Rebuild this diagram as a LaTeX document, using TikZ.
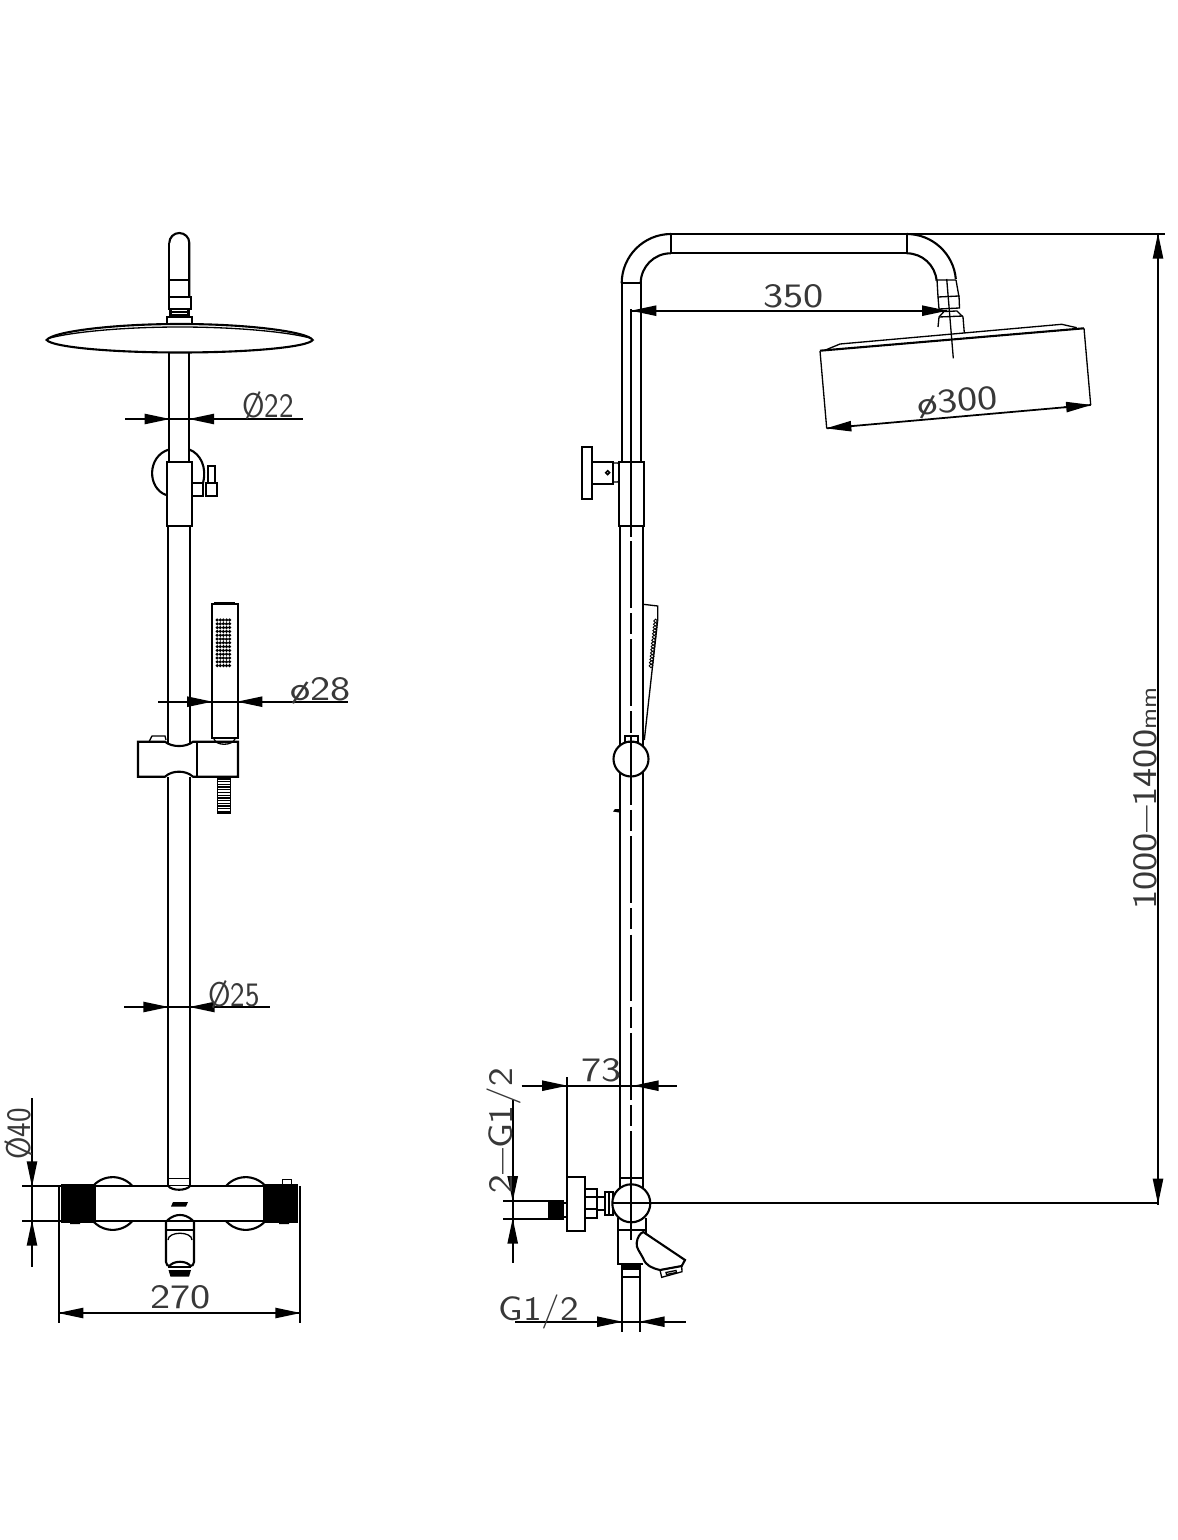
\documentclass[tikz,border=0pt]{standalone}
\usepackage{tikz}
\usetikzlibrary{arrows.meta}
\newcommand{\dimdash}{\raisebox{1.6pt}{\fontsize{13}{13}\selectfont —}}
\tikzset{
  partline/.style={line width=1.2pt,line join=miter},
  thinline/.style={line width=.75pt},
  dimline/.style={line width=1pt},
  dimtip/.style={line width=1pt,-{Triangle[length=14.5pt,width=5.8pt]},shorten >=-.5pt},
  dimtext/.style={font=\sffamily\fontsize{19.5}{20}\selectfont,inner sep=0pt,text=black!78},
  dimwide/.style={dimtext,xscale=1.25},
  dimnarrow/.style={dimtext,xscale=.9}
}
\begin{document}
\begin{tikzpicture}[x=0.02cm,y=-0.02cm]
      \useasboundingbox (0,0) rectangle (1177,1540);

      \draw[partline] (169.3,243) arc[start angle=180,end angle=360,radius=10] -- (189.3,297);
      \draw[partline] (169.3,243) -- (169.3,297);
      \draw[thinline] (169.3,280) -- (189.3,280);
      \draw[partline] (168.7,297) rectangle (190.7,309);
      \draw[partline] (170.5,309) -- (170.5,317) (188.5,309) -- (188.5,317);
      \draw[thinline] (172,312) -- (187,312) (172,315) -- (187,315);
      \draw[partline] (167,325) -- (167,317) -- (192,317) -- (192,325);
      \draw[partline,fill=white] (46.7,340) .. controls (52,332) and (110,324) .. (180,324) .. controls (250,324) and (308,332) .. (312.7,340) .. controls (308,347) and (250,352.5) .. (180,352.5) .. controls (110,352.5) and (52,347) .. cycle;
      \draw[thinline] (50,338) .. controls (70,332.5) and (120,327) .. (180,327) .. controls (240,327) and (290,332.5) .. (310,338);
      \draw[partline] (169.3,352.5) -- (169.3,462) (189.3,352.5) -- (189.3,462);
      \draw[partline] (169,449.5) .. controls (147,456) and (147,488) .. (166,495);
      \draw[partline] (189.3,449.5) .. controls (201,454) and (207,468) .. (203,483);
      \draw[partline,fill=white] (167,462) rectangle (192,526);
      \draw[partline] (192,483) rectangle (203,496);
      \draw[partline] (205.7,483) rectangle (217,496);
      \draw[partline] (207.7,483) -- (207.7,466) -- (215,466) -- (215,483);

      \draw[partline] (168,526) -- (168,743) (190,526) -- (190,743);
      \draw[partline] (168,777) -- (168,1186) (190,777) -- (190,1186);
      \draw[partline] (211.7,738) -- (211.7,604) -- (237.7,604) -- (237.7,738) -- cycle;
      \draw[thinline] (214,603) -- (235,603);
      \foreach \dotx in {217.2,220.3,...,232}
        \foreach \doty in {620,623.8,...,667}
          \fill (\dotx,\doty) circle[radius=1.75];
      \draw[partline] (138,741.7) -- (165,741.7) .. controls (172,747.5) and (186,747.5) .. (193,741.7) -- (238,741.7) -- (238,776.7) -- (193,776.7) .. controls (186,770) and (172,770) .. (165,776.7) -- (138,776.7) -- cycle;
      \draw[partline] (197,741.7) -- (197,776.7);
      \draw[thinline] (149,741.7) -- (152,736) -- (165,736) -- (166,740);
      \draw[thinline] (214,739) .. controls (216,746) and (232,746) .. (235,739);
      \draw[thinline] (217.7,777) -- (217.7,813) -- (230.7,813) -- (230.7,777);
      \foreach \coily in {779,781.7,...,812}
        \draw[thinline] (218,\coily) -- (230.5,\coily);

      \draw[partline] (92.8,1186.2) arc[start angle=221,end angle=319,radius=26.4];
      \draw[partline] (132.6,1220.8) arc[start angle=41,end angle=139,radius=26.4];
      \draw[partline] (225.8,1186.2) arc[start angle=221,end angle=319,radius=26.4];
      \draw[partline] (265.6,1220.8) arc[start angle=41,end angle=139,radius=26.4];
      \draw[partline] (96,1186) -- (263.3,1186) (96,1221) -- (263.3,1221);
      \draw[partline,fill=white] (168.3,1186) .. controls (172,1191) and (186,1191) .. (190,1186);
      \draw[thinline] (168.3,1178.5) -- (190,1178.5);
      \fill (61,1184.3) rectangle (96,1222.7);
      \fill (263.3,1184.3) rectangle (298,1222.7);
      \fill (70,1222) rectangle (80,1224) (279,1222) rectangle (289,1224);
      \draw[thinline] (282.7,1184) -- (282.7,1179.3) -- (291.7,1179.3) -- (291.7,1184);
      \fill (171,1206.5) -- (173,1202) -- (188,1202) -- (186,1206.5) -- cycle;
      \draw[partline] (166.7,1221) .. controls (172,1216) and (176,1215) .. (180,1215) .. controls (184,1215) and (188,1216) .. (193.3,1221);
      \draw[partline] (166,1221) -- (166,1262) .. controls (166,1265) and (168,1266) .. (170,1266);
      \draw[partline] (194,1221) -- (194,1262) .. controls (194,1265) and (192,1266) .. (190,1266);
      \draw[partline] (166,1230) -- (194,1230);
      \draw[thinline] (168,1240) .. controls (168,1231) and (192,1231) .. (192,1240);
      \draw[partline] (169,1267) .. controls (172,1260) and (188,1260) .. (191,1267);
      \draw[thinline] (168,1267) -- (191,1267);
      \fill (168.5,1270) -- (191,1270) -- (189,1276.7) -- (170.5,1276.7) -- cycle;

      \draw[dimline] (125,419) -- (303,419);
      \draw[dimtip] (144,419) -- (169.3,419);
      \draw[dimtip] (215,419) -- (189.5,419);
      \node[dimnarrow,anchor=base west] (dia22) at (242,418) {Ø22};

      \draw[dimline] (158,701.7) -- (348,701.7);
      \draw[dimtip] (185,701.7) -- (211.7,701.7);
      \draw[dimtip] (264,701.7) -- (237.7,701.7);
      \node[dimwide,anchor=base west] (dia28) at (290,700) {ø28};

      \draw[dimline] (124,1007) -- (270,1007);
      \draw[dimtip] (142,1007) -- (168,1007);
      \draw[dimtip] (216,1007) -- (190,1007);
      \node[dimnarrow,anchor=base west] (dia25) at (208,1006) {Ø25};

      \draw[dimline] (22,1186) -- (61,1186) (22,1221) -- (61,1221);
      \draw[dimline] (32,1098) -- (32,1267);
      \draw[dimtip] (32,1158) -- (32,1186);
      \draw[dimtip] (32,1247) -- (32,1221);
      \node[rotate=90,dimnarrow,anchor=base west] (dia40) at (30.5,1160) {Ø40};

      \draw[dimline] (58.7,1186) -- (58.7,1323) (300,1186) -- (300,1323);
      \draw[dimline] (58.7,1313) -- (300,1313);
      \draw[dimtip] (86,1313) -- (58.7,1313);
      \draw[dimtip] (272.7,1313) -- (300,1313);
      \node[dimwide,anchor=base west] (width270) at (150,1308) {270};

      \draw[partline] (621.7,283.3) arc[start angle=180,end angle=270,radius=49.3];
      \draw[partline] (640.7,283.3) arc[start angle=180,end angle=270,radius=30];
      \draw[partline] (671,234) rectangle (906.7,253.3);
      \draw[partline] (906.7,234) arc[start angle=270,end angle=355,radius=49.3];
      \draw[partline] (906.7,253.3) arc[start angle=270,end angle=355,radius=30];
      \draw[dimline] (906.7,234) -- (1165,234);
      \draw[partline] (621.7,283.3) -- (640.7,283.3);
      \draw[partline] (621.7,283.3) -- (621.7,462) (640.7,283.3) -- (640.7,462);
      \draw[partline] (630.7,309.3) -- (630.7,537);

      \draw[thinline] (937,280) -- (956,280) (937,280) -- (938,297) (956,280) -- (959,297);
      \draw[thinline] (938,297) -- (959,296) -- (959.5,308) -- (939,309) -- cycle;
      \draw[thinline] (946.7,279) -- (953.3,358.3);
      \draw[thinline] (938,327) -- (939,317) -- (944,311.5) -- (957,311) -- (963,317) -- (964.3,333);
      \draw[thinline] (939,317) -- (963,316);
      \draw[partline] (820,350.7) -- (1084,328.3);
      \draw[thinline] (826.7,349.5) -- (840,344) -- (1061.7,324.3) -- (1076.7,327.7);
      \draw[thinline] (820,351) -- (826.7,428.3);
      \draw[thinline] (1084,328.3) -- (1090.7,405);

      \draw[dimline] (630.7,310.7) -- (946.7,310.7);
      \draw[dimtip] (658,310.7) -- (631.7,310.7);
      \draw[dimtip] (922.7,310.7) -- (946.7,310.7);
      \node[dimwide,anchor=base west] (reach350) at (763,308) {350};

      \draw[dimline] (826.7,428.3) -- (1090.7,405);
      \draw[dimtip] (853.3,426) -- (826.7,428.3);
      \draw[dimtip] (1064,407.3) -- (1090.7,405);
      \node[rotate=5,dimwide,anchor=base west] (dia300) at (918,415.5) {ø300};

      \draw[partline] (581.7,446.7) rectangle (592.3,499.3);
      \draw[partline] (592.3,461.7) rectangle (613.3,484);
      \draw[line width=.9pt] (607.7,472.7) circle[radius=1.9];
      \draw[thinline] (613.3,463) -- (618,463) .. controls (622,468) and (622,478) .. (618,482) -- (613.3,482);
      \draw[partline,fill=white] (619,462) rectangle (644.3,526);
      \draw[partline] (630.7,440) -- (630.7,526);
      \draw[partline] (620,526) -- (620,1190) (643,526) -- (643,1190);
      \draw[partline,dash pattern=on 38pt off 3pt on 12pt off 3pt] (630.7,541) -- (630.7,1178);

      \draw[thinline] (643.3,604.3) -- (657.7,606) -- (657.7,620) -- (644.3,740);
      \foreach \linkn in {0,...,14}
        \draw[line width=.5pt,fill=white] ({655.7-\linkn*0.335},{621+\linkn*3.2}) circle[radius=1.9];
      \draw[partline] (625,741.7) -- (625,735.7) -- (638.3,735.7) -- (638.3,741.7);
      \draw[partline,fill=white] (631,759) circle[radius=17.5];
      \draw[partline] (625,741.7) -- (638.3,741.7);
      \draw[partline] (631,735.7) -- (631,776.5);
      \fill (613,811.5) -- (615,809) -- (619,809) -- (619,812.5) -- cycle;

      \draw[partline] (620,1178) -- (643,1178);
      \draw[partline] (618,1218) -- (618,1264) -- (643,1264);
      \draw[partline] (645.7,1218) -- (645.7,1233);
      \draw[partline] (618,1230) -- (645.7,1230);
      \draw[partline] (566.7,1176.7) rectangle (585,1231);
      \draw[partline] (585,1189) rectangle (597,1218);
      \draw[thinline] (585,1197) -- (597,1197) (585,1209) -- (597,1209);
      \draw[partline] (597,1197) -- (605,1197) (597,1210) -- (605,1210);
      \draw[partline] (605,1192) rectangle (613,1215);
      \draw[thinline] (609,1192) -- (609,1215);
      \draw[partline,fill=white] (631.3,1203.3) circle[radius=19];
      \draw[partline] (631.3,1178) -- (631.3,1240);
      \draw[partline] (612,1203.3) -- (1158,1203.3);

      \draw[partline,fill=white] (643.3,1232) -- (685,1260) -- (681.7,1266) -- (660,1270) .. controls (652,1268) and (646,1266) .. (643,1258) .. controls (640,1252) and (636,1248) .. (636.7,1243) .. controls (637,1238) and (640,1233) .. cycle;
      \draw[thinline] (660,1270) -- (681.7,1266) -- (682,1271.7) -- (661.7,1277.3) -- cycle;
      \draw[thinline] (666,1272.5) -- (676,1270.5) -- (676.5,1272.5) -- (666.5,1274.5) -- cycle;

      \fill (621.7,1265) rectangle (640,1270);
      \draw[partline] (621.7,1264) -- (621.7,1331.7) (640,1264) -- (640,1331.7);
      \draw[partline] (621.7,1276.7) -- (640,1276.7);

      \draw[dimline] (503,1200.7) -- (548,1200.7) (503,1219) -- (548,1219);
      \fill (548,1200) rectangle (564,1219.7);
      \draw[thinline] (564,1203) -- (566.7,1203) (564,1217) -- (566.7,1217);

      \draw[dimline] (521.7,1085.7) -- (676.7,1085.7);
      \draw[dimtip] (540,1085.7) -- (566.7,1085.7);
      \draw[dimtip] (658,1085.7) -- (634,1085.7);
      \draw[dimline] (566.7,1077) -- (566.7,1177);
      \node[dimwide,anchor=base west] (offset73) at (581,1081) {73};

      \draw[dimline] (512.7,1100) -- (512.7,1263);
      \draw[dimtip] (512.7,1174) -- (512.7,1200.7);
      \draw[dimtip] (512.7,1245) -- (512.7,1219);
      \node[rotate=90,dimtext,xscale=1.16,anchor=base west] (inlet) at (512,1194) {2\dimdash G1/2};

      \draw[dimline] (515,1321.7) -- (686,1321.7);
      \draw[dimtip] (595,1321.7) -- (621.7,1321.7);
      \draw[dimtip] (667,1321.7) -- (640,1321.7);
      \node[dimtext,xscale=1.15,anchor=base west] (outlet) at (498,1320) {G1/2};

      \draw[dimline] (1158,233) -- (1158,1205);
      \draw[dimtip] (1158,262) -- (1158,234);
      \draw[dimtip] (1158,1175) -- (1158,1203.3);
      \node[rotate=90,dimtext,xscale=1.19,anchor=base west] (height) at (1156.5,910) {1000\dimdash 1400{\fontsize{13}{13}\selectfont mm}};
    \end{tikzpicture}
\end{document}
